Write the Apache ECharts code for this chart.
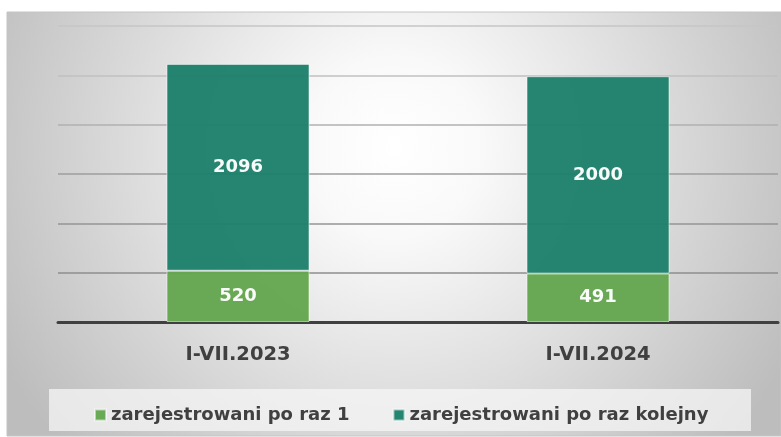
<!DOCTYPE html>
<html>
<head>
<meta charset="utf-8">
<script src="https://cdn.jsdelivr.net/npm/echarts@6/dist/echarts.min.js"></script>
<style>html,body{margin:0;padding:0;background:#fff}#c{width:781px;height:437px}</style>
</head>
<body>
<div id="c"></div>
<script>
const categories = ['I-VII.2023', 'I-VII.2024'];
const seriesNames = ['zarejestrowani po raz 1', 'zarejestrowani po raz kolejny'];
const firstTime = [520, 491];
const repeated = [2096, 2000];
const yTicks = [0, 500, 1000, 1500, 2000, 2500, 3000];

const FONT = '"DejaVu Sans", sans-serif';
const chart = echarts.init(document.getElementById('c'), null, {renderer: 'canvas'});
chart.setOption({
  animation: false,
  backgroundColor: '#ffffff',
  graphic: [
    {
      type: 'rect', z: -10, silent: true,
      shape: {x: 7, y: 12, width: 774, height: 424},
      style: {
        fill: {type: 'radial', x: 0.5, y: 0.32, r: 1.05,
          colorStops: [{offset: 0, color: '#ffffff'}, {offset: 0.2, color: '#f9f9f9'}, {offset: 1, color: '#bdbdbd'}]},
        stroke: '#c4c4c4', lineWidth: 1
      }
    },
    {
      type: 'rect', z: -5, silent: true,
      shape: {x: 49, y: 389, width: 702, height: 42},
      style: {fill: 'rgba(245,245,245,0.75)'}
    }
  ],
  grid: {left: 58, right: 3, top: 26, bottom: 115},
  legend: {
    data: seriesNames,
    left: 89, top: 401,
    itemWidth: 11, itemHeight: 11, itemGap: 43,
    icon: 'rect',
    textStyle: {fontFamily: FONT, fontWeight: 'bold', fontSize: 18, color: '#404040', padding: [0, 0, 0, 0]}
  },
  xAxis: {
    type: 'category', data: categories,
    axisLine: {lineStyle: {color: '#404040', width: 3}},
    axisTick: {show: false},
    axisLabel: {fontFamily: FONT, fontWeight: 'bold', fontSize: 19.5, color: '#404040', margin: 23}
  },
  yAxis: {
    type: 'value', min: yTicks[0], max: yTicks[yTicks.length - 1], interval: yTicks[1] - yTicks[0],
    axisLabel: {show: false}, axisLine: {show: false}, axisTick: {show: false},
    splitLine: {lineStyle: {color: ['#888888', '#8e8e8e', '#949494', '#9e9e9e', '#b0b0b0', '#c0c0c0', '#c6c6c6'], width: 1.5}}
  },
  series: [
    {
      name: seriesNames[0], type: 'bar', stack: 's', data: firstTime,
      barWidth: 143,
      itemStyle: {color: '#64a74f', opacity: 0.96, borderColor: 'rgba(255,255,255,0.55)', borderWidth: 1},
      label: {show: true, position: 'inside', color: '#ffffff', fontFamily: FONT, fontWeight: 'bold', fontSize: 18}
    },
    {
      name: seriesNames[1], type: 'bar', stack: 's', data: repeated,
      barWidth: 143,
      itemStyle: {color: '#1d806a', opacity: 0.96, borderColor: 'rgba(255,255,255,0.55)', borderWidth: 1},
      label: {show: true, position: 'inside', color: '#ffffff', fontFamily: FONT, fontWeight: 'bold', fontSize: 18}
    }
  ]
});
</script>
</body>
</html>
